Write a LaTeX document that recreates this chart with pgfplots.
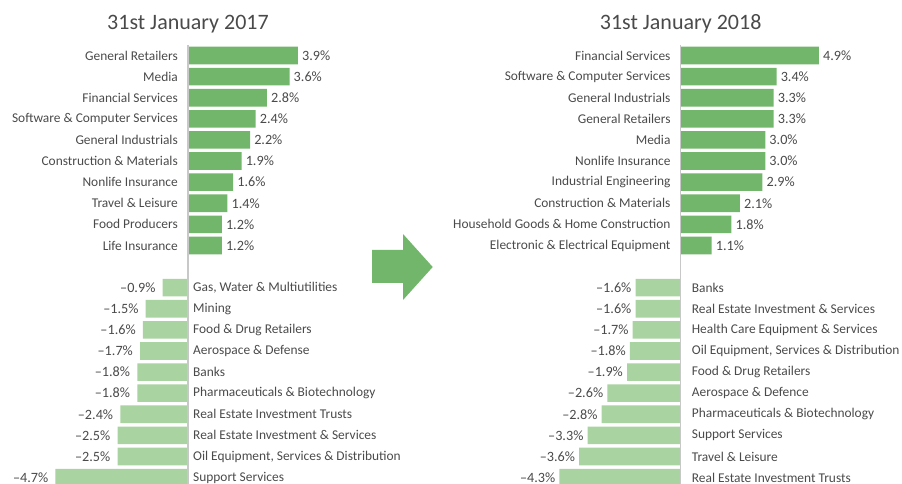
\documentclass[border=0pt]{standalone}
\usepackage{fontspec}
\setmainfont{Carlito}
\usepackage{pgfplots}
\usepackage{pgfplotstable}
\pgfplotsset{compat=1.18}

\definecolor{barDark}{HTML}{72B66B}
\definecolor{barLight}{HTML}{A9D3A0}
\definecolor{txt}{HTML}{4A4A4A}
\definecolor{zeroline}{HTML}{C8C8C8}
\newcommand\labfont{\fontsize{13.4}{16}\selectfont}
\newcommand\valfont{\fontsize{14.2}{16}\selectfont}

% slot k: 0-9 gainers, 11-20 losers
\pgfplotstableread[col sep=semicolon]{
k;v;label
0;3.9;General Retailers
1;3.6;Media
2;2.8;Financial Services
3;2.4;Software \& Computer Services
4;2.2;General Industrials
5;1.9;Construction \& Materials
6;1.6;Nonlife Insurance
7;1.4;Travel \& Leisure
8;1.2;Food Producers
9;1.2;Life Insurance
}\posA
\pgfplotstableread[col sep=semicolon]{
k;v;label
11;-0.9;Gas, Water \& Multiutilities
12;-1.5;Mining
13;-1.6;Food \& Drug Retailers
14;-1.7;Aerospace \& Defense
15;-1.8;Banks
16;-1.8;Pharmaceuticals \& Biotechnology
17;-2.4;Real Estate Investment Trusts
18;-2.5;Real Estate Investment \& Services
19;-2.5;Oil Equipment, Services \& Distribution
20;-4.7;Support Services
}\negA
\pgfplotstableread[col sep=semicolon]{
k;v;label
0;4.9;Financial Services
1;3.4;Software \& Computer Services
2;3.3;General Industrials
3;3.3;General Retailers
4;3.0;Media
5;3.0;Nonlife Insurance
6;2.9;Industrial Engineering
7;2.1;Construction \& Materials
8;1.8;Household Goods \& Home Construction
9;1.1;Electronic \& Electrical Equipment
}\posB
\pgfplotstableread[col sep=semicolon]{
k;v;label
11;-1.6;Banks
12;-1.6;Real Estate Investment \& Services
13;-1.7;Health Care Equipment \& Services
14;-1.8;Oil Equipment, Services \& Distribution
15;-1.9;Food \& Drug Retailers
16;-2.6;Aerospace \& Defence
17;-2.8;Pharmaceuticals \& Biotechnology
18;-3.3;Support Services
19;-3.6;Travel \& Leisure
20;-4.3;Real Estate Investment Trusts
}\negB

\pgfplotsset{
  panel/.style={
    x=28.2pt, y=21.1pt, y dir=reverse,
    ymin=-0.5, ymax=20.31,
    axis line style={draw=none}, xtick=\empty, ytick=\empty,
    clip=false, anchor=north west,
  },
  posbar/.style={xbar, bar width=17.6pt, bar shift=0pt, fill=barDark, draw=none,
    point meta=x,
    nodes near coords={\pgfmathprintnumber[fixed,fixed zerofill,precision=1,assume math mode=true]{\pgfplotspointmeta}\%},
    every node near coord/.append style={anchor=west, inner sep=0pt, xshift=4pt, text=txt, font=\valfont}},
  negbar/.style={xbar, bar width=17.6pt, bar shift=0pt, fill=barLight, draw=none,
    point meta=explicit,
    nodes near coords={\textendash\pgfmathprintnumber[fixed,fixed zerofill,precision=1,assume math mode=true]{\pgfplotspointmeta}\%},
    every node near coord/.append style={anchor=east, inner sep=0pt, xshift=-#1, text=txt, font=\valfont}},
  poslab/.style={draw=none, point meta=explicit symbolic, nodes near coords,
    every node near coord/.append style={anchor=east, inner sep=0pt, xshift=-10pt, text=txt, font=\labfont}},
  neglab/.style={draw=none, point meta=explicit symbolic, nodes near coords,
    every node near coord/.append style={anchor=west, inner sep=0pt, xshift=#1, text=txt, font=\labfont}},
}

\begin{document}
\begin{tikzpicture}
\path[use as bounding box, clip] (0,0) rectangle (902pt,484pt);

\begin{axis}[panel, at={(0pt,439pt)}, xmin=-6.667, xmax=9.29,
  title={31st January 2017},
  every axis title/.style={at={(axis description cs:0.4178,1)}, anchor=base, yshift=15.5pt,
    font=\fontsize{22}{26}\selectfont, text=txt}]
\addplot[posbar] table[x=v, y=k] {\posA};
\addplot[negbar=7pt] table[x=v, y=k, meta expr={-\thisrow{v}}] {\negA};
\addplot[poslab] table[x expr=0, y=k, meta=label] {\posA};
\addplot[neglab=5pt] table[x expr=0, y=k, meta=label] {\negA};
\addplot[zeroline, line width=1.4pt] coordinates {(0,-0.5) (0,20.31)};
\end{axis}

\begin{axis}[panel, at={(450pt,439pt)}, xmin=-8.18, xmax=7.85,
  title={31st January 2018},
  every axis title/.style={at={(axis description cs:0.5103,1)}, anchor=base, yshift=15.5pt,
    font=\fontsize{22}{26}\selectfont, text=txt}]
\addplot[posbar] table[x=v, y=k] {\posB};
\addplot[negbar=4pt] table[x=v, y=k, meta expr={-\thisrow{v}}] {\negB};
\addplot[poslab] table[x expr=0, y=k, meta=label] {\posB};
\addplot[neglab=11pt] table[x expr=0, y=k, meta=label] {\negB};
\addplot[zeroline, line width=1.4pt] coordinates {(0,-0.5) (0,20.31)};
\end{axis}

% block arrow between the panels
\fill[barDark] (372pt,234pt) -- (403pt,234pt) -- (403pt,250pt) -- (432.7pt,217pt)
  -- (403pt,184pt) -- (403pt,201pt) -- (372pt,201pt) -- cycle;
\end{tikzpicture}
\end{document}
